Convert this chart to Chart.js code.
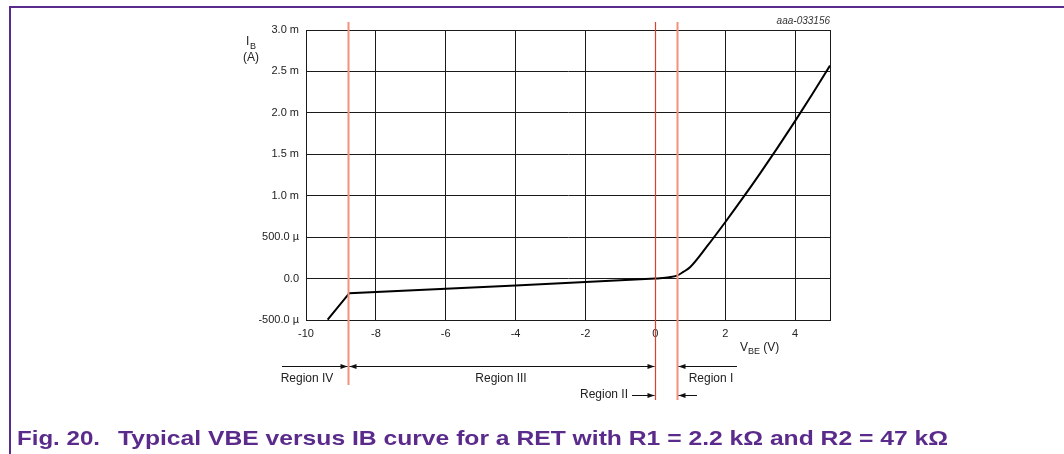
<!DOCTYPE html>
<html>
<head>
<meta charset="utf-8">
<script src="https://cdn.jsdelivr.net/npm/chart.js@4.4.0/dist/chart.umd.min.js"></script>
<style>
  html, body { margin: 0; padding: 0; background: #fff; }
  #wrap { width: 1064px; height: 454px; }
</style>
</head>
<body>
<div id="wrap"><canvas id="myChart" width="1064" height="454"></canvas></div>
<script>
// VBE (V) vs IB (mA)
// straight part: regions IV and III, up to 0 V
const vbeLow = [-9.38, -8.76, -4, 0];
const ibLow = [-0.496, -0.176, -0.085, 0];
// curved part: regions II and I
const vbeHigh = [0, 0.4, 0.62, 0.8, 1.0, 1.5, 2.0, 2.5, 3.0, 3.5, 4.0, 4.5, 5.0];
const ibHigh = [0, 0.016, 0.036, 0.08, 0.14, 0.40, 0.68, 0.97, 1.27, 1.58, 1.90, 2.23, 2.57];

const xTicks = [-10, -8, -6, -4, -2, 0, 2, 4];
const yTicks = [-0.5, 0, 0.5, 1, 1.5, 2, 2.5, 3];
const yTickLabels = ['-500.0 µ', '0.0', '500.0 µ', '1.0 m', '1.5 m', '2.0 m', '2.5 m', '3.0 m'];

// region borders (V) and labels
const regionEdges = [-8.8, 0, 0.62];
const regionNames = ['Region IV', 'Region III', 'Region II', 'Region I'];

const figId = 'aaa-033156';
const captionHead = 'Fig. 20.';
const captionText = 'Typical VBE versus IB curve for a RET with R1 = 2.2 kΩ and R2 = 47 kΩ';

const FONT = '"Liberation Sans", Arial, sans-serif';
const CAPFONT = '"Liberation Sans Narrow", "Arial Narrow", "Liberation Sans", Arial, sans-serif';
const PURPLE = '#5b2b8c';

const arrowHead = (ctx, x, y, dir) => {
  // dir = 1 points right, -1 points left, tip at x
  ctx.beginPath();
  ctx.moveTo(x, y);
  ctx.lineTo(x - dir * 7, y - 2.5);
  ctx.lineTo(x - dir * 7, y + 2.5);
  ctx.closePath();
  ctx.fill();
};

const decorations = {
  id: 'decorations',
  afterDraw(chart) {
    const ctx = chart.ctx;
    const area = chart.chartArea;
    const xs = chart.scales.x;
    ctx.save();

    // plot box
    ctx.strokeStyle = '#1a1a1a';
    ctx.lineWidth = 1;
    ctx.strokeRect(Math.round(area.left) + 0.5, Math.round(area.top) + 0.5,
      Math.round(area.right - area.left), Math.round(area.bottom - area.top));

    const px = regionEdges.map(v => Math.round(xs.getPixelForValue(v)) + 0.5);

    // region boundary lines
    ctx.lineWidth = 2;
    ctx.strokeStyle = '#f4907e';
    ctx.beginPath();
    ctx.moveTo(px[0], 22); ctx.lineTo(px[0], 385);
    ctx.moveTo(px[2], 22); ctx.lineTo(px[2], 400);
    ctx.stroke();
    ctx.lineWidth = 1.2;
    ctx.strokeStyle = '#d8412f';
    ctx.beginPath();
    ctx.moveTo(px[1], 22); ctx.lineTo(px[1], 400);
    ctx.stroke();

    // region arrows
    const r1 = 366.5, r2 = 395.5;
    ctx.strokeStyle = '#111';
    ctx.fillStyle = '#111';
    ctx.lineWidth = 1;
    ctx.beginPath();
    ctx.moveTo(282, r1); ctx.lineTo(px[0] - 1, r1);
    ctx.moveTo(px[0] + 1, r1); ctx.lineTo(px[1] - 1, r1);
    ctx.moveTo(px[2] + 1, r1); ctx.lineTo(737, r1);
    ctx.moveTo(632, r2); ctx.lineTo(px[1] - 1, r2);
    ctx.moveTo(px[2] + 1, r2); ctx.lineTo(697, r2);
    ctx.stroke();
    arrowHead(ctx, px[0] - 1, r1, 1);
    arrowHead(ctx, px[0] + 1, r1, -1);
    arrowHead(ctx, px[1] - 1, r1, 1);
    arrowHead(ctx, px[2] + 1, r1, -1);
    arrowHead(ctx, px[1] - 1, r2, 1);
    arrowHead(ctx, px[2] + 1, r2, -1);

    ctx.font = '12px ' + FONT;
    ctx.fillStyle = '#222';
    ctx.textBaseline = 'middle';
    ctx.textAlign = 'center';
    ctx.fillText(regionNames[0], 307, 379);
    ctx.fillText(regionNames[1], 501, 379);
    ctx.fillText(regionNames[3], 711, 379);
    ctx.textAlign = 'right';
    ctx.fillText(regionNames[2], 628, 395);

    // axis titles
    ctx.textAlign = 'left';
    ctx.textBaseline = 'alphabetic';
    ctx.font = '12px ' + FONT;
    ctx.fillText('I', 246, 45);
    ctx.font = '9px ' + FONT;
    ctx.fillText('B', 250, 49);
    ctx.font = '12px ' + FONT;
    ctx.fillText('(A)', 243, 61);

    ctx.fillText('V', 740, 351);
    const vw = ctx.measureText('V').width;
    ctx.font = '9px ' + FONT;
    ctx.fillText('BE', 740 + vw, 354);
    const bw = ctx.measureText('BE').width;
    ctx.font = '12px ' + FONT;
    ctx.fillText(' (V)', 740 + vw + bw, 351);

    // figure id
    ctx.font = 'italic 10px ' + FONT;
    ctx.textAlign = 'right';
    ctx.fillStyle = '#333';
    ctx.fillText(figId, 830, 24);

    // frame
    ctx.strokeStyle = PURPLE;
    ctx.lineWidth = 2;
    ctx.beginPath();
    ctx.moveTo(1064, 7);
    ctx.lineTo(10, 7);
    ctx.lineTo(10, 454);
    ctx.stroke();

    // caption
    ctx.fillStyle = PURPLE;
    ctx.textAlign = 'left';
    ctx.font = 'bold 21px ' + CAPFONT;
    const hw = ctx.measureText(captionHead).width;
    ctx.save();
    ctx.translate(17, 445);
    ctx.scale(83 / hw, 1);
    ctx.fillText(captionHead, 0, 0);
    ctx.restore();
    const tw = ctx.measureText(captionText).width;
    ctx.save();
    ctx.translate(118, 445);
    ctx.scale((948 - 118) / tw, 1);
    ctx.fillText(captionText, 0, 0);
    ctx.restore();

    ctx.restore();
  }
};

const toPoints = (xs, ys) => xs.map((v, i) => ({ x: v, y: ys[i] }));

const ctx = document.getElementById('myChart').getContext('2d');
const chart = new Chart(ctx, {
  type: 'line',
  data: {
    datasets: [{
      label: 'IB low',
      data: toPoints(vbeLow, ibLow),
      borderColor: '#000',
      borderWidth: 2,
      pointRadius: 0,
      fill: false,
      tension: 0
    }, {
      label: 'IB high',
      data: toPoints(vbeHigh, ibHigh),
      borderColor: '#000',
      borderWidth: 2,
      pointRadius: 0,
      fill: false,
      cubicInterpolationMode: 'monotone'
    }]
  },
  options: {
    responsive: false,
    animation: false,
    devicePixelRatio: 1,
    layout: { padding: { left: 0, top: 30, right: 234, bottom: 114 } },
    plugins: {
      legend: { display: false },
      tooltip: { enabled: false }
    },
    scales: {
      x: {
        type: 'linear',
        min: -10,
        max: 5,
        afterBuildTicks: s => { s.ticks = xTicks.map(v => ({ value: v })); },
        afterFit: s => { s.height = 20; },
        grid: { color: '#1a1a1a', lineWidth: 1, drawTicks: false },
        border: { color: '#1a1a1a' },
        ticks: {
          padding: 7,
          color: '#222',
          font: { family: FONT, size: 11 },
          maxRotation: 0,
          callback: v => String(v)
        }
      },
      y: {
        type: 'linear',
        min: -0.5,
        max: 3,
        afterBuildTicks: s => { s.ticks = yTicks.map(v => ({ value: v })); },
        afterFit: s => { s.width = 306; },
        grid: { color: '#1a1a1a', lineWidth: 1, drawTicks: false },
        border: { color: '#1a1a1a' },
        ticks: {
          padding: 7,
          color: '#222',
          font: { family: FONT, size: 11 },
          callback: (v) => yTickLabels[yTicks.indexOf(v)]
        }
      }
    }
  },
  plugins: [decorations]
});
</script>
</body>
</html>
